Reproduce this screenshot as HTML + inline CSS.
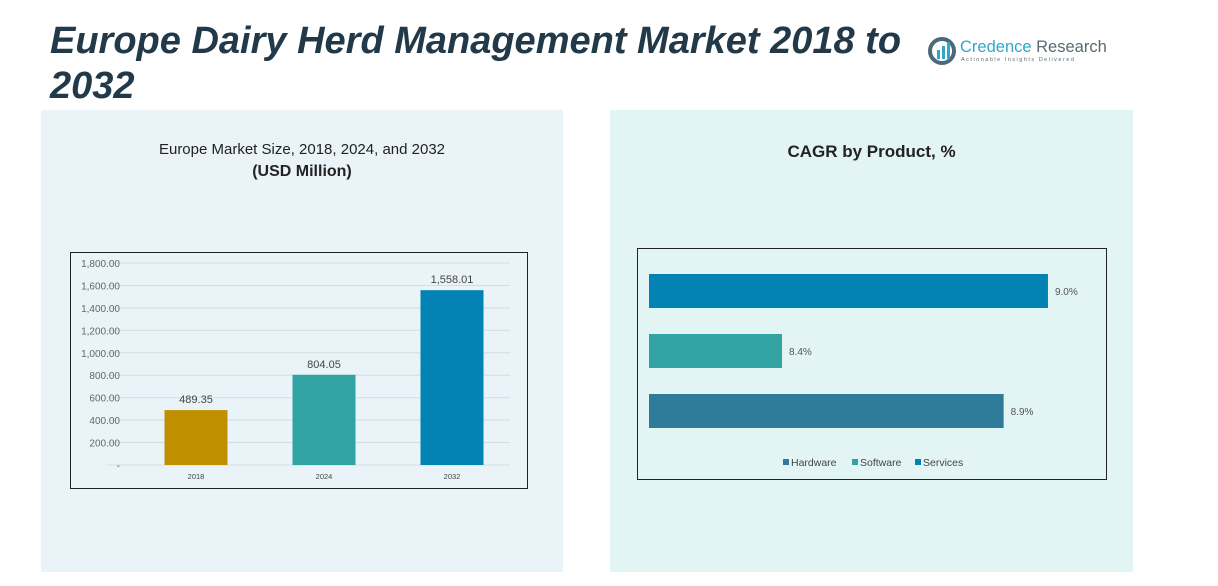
<!DOCTYPE html>
<html><head><meta charset="utf-8"><style>
body{margin:0;width:1218px;height:586px;background:#fff;font-family:"Liberation Sans",sans-serif;position:relative;overflow:hidden}
.t{position:absolute;left:50px;top:19px;font-size:38px;font-weight:bold;font-style:italic;color:#22394a;line-height:45px;width:870px}
.panel{position:absolute;top:110px;height:462px}
</style></head><body>
<div class="t">Europe Dairy Herd Management Market 2018 to 2032</div>
<div style="position:absolute;left:928px;top:36px">
<svg width="30" height="30"><circle cx="14" cy="15" r="12" fill="none" stroke="#4a6a7a" stroke-width="4"/><rect x="9" y="14" width="3" height="9" fill="#2fa8c8"/><rect x="14" y="10" width="3" height="13" fill="#2fa8c8"/><rect x="19" y="6" width="3" height="17" fill="#2fa8c8"/></svg>
<div style="position:absolute;left:32px;top:2px;font-size:16.5px;color:#2fa8c8;white-space:nowrap">Credence <span style="color:#5a6a72">Research</span></div>
<div style="position:absolute;left:33px;top:21px;font-size:5.5px;letter-spacing:1.5px;color:#5a6a72;white-space:nowrap">Actionable Insights Delivered</div>
</div>
<div class="panel" style="left:41px;width:522px;background:#eaf3f8"></div>
<div class="panel" style="left:610px;width:523px;background:#e3f4f4"></div>
<div style="position:absolute;left:41px;width:522px;top:139px;text-align:center;font-size:15px;color:#222;line-height:22px">Europe Market Size, 2018, 2024, and 2032<br><b style="font-size:16px">(USD Million)</b></div>
<div style="position:absolute;left:610px;width:523px;top:142px;text-align:center;font-size:17px;font-weight:bold;color:#222">CAGR by Product, %</div>
<svg id="s" width="1218" height="586" style="position:absolute;left:0;top:0">
<rect x="70.5" y="252.5" width="457" height="236" fill="none" stroke="#222"/>
<rect x="637.5" y="248.5" width="469" height="231" fill="none" stroke="#222"/>
</svg>
<script>
const years=["2018","2024","2032"];
const sizes=[489.35,804.05,1558.01];
const sizeLabels=["489.35","804.05","1,558.01"];
const yTicks=[0,200,400,600,800,1000,1200,1400,1600,1800];
const yTickLabels=["-","200.00","400.00","600.00","800.00","1,000.00","1,200.00","1,400.00","1,600.00","1,800.00"];
const products=["Services","Software","Hardware"];
const cagr=[9.0,8.4,8.9];
const cagrLabels=["9.0%","8.4%","8.9%"];
const legendNames=["Hardware","Software","Services"];
const NS="http://www.w3.org/2000/svg",s=document.getElementById('s');
function mk(t,a,txt){const e=document.createElementNS(NS,t);for(const k in a)e.setAttribute(k,a[k]);if(txt!=null)e.textContent=txt;s.appendChild(e);return e;}
const y=v=>465-v*(202/1800), x=i=>196+i*128;
const barCol=["#bf8f00","#31a3a3","#0382b4"];
yTicks.forEach((t,i)=>{
const g=mk('line',{x1:107,x2:510,y1:y(t),y2:y(t),stroke:'#d4dde2','stroke-width':1});


const l=mk('text',{x:120,y:y(t)+4,'text-anchor':'end','font-size':10,fill:'#666'},yTickLabels[i]);


});
years.forEach((yr,i)=>{
const b=mk('rect',{x:x(i)-31.5,y:y(sizes[i]),width:63,height:465-y(sizes[i]),fill:barCol[i]});


const v=mk('text',{x:x(i),y:y(sizes[i])-7,'text-anchor':'middle','font-size':11,fill:'#444'},sizeLabels[i]);


const c=mk('text',{x:x(i),y:479,'text-anchor':'middle','font-size':7.5,fill:'#444'},yr);


});
const hx=v=>649+(v-8.1)*443.3, hy=i=>274+i*60;
const hCol=["#0382b4","#31a3a3","#2e7b9a"];
products.forEach((p,i)=>{
const b=mk('rect',{x:649,y:hy(i),width:hx(cagr[i])-649,height:34,fill:hCol[i]});


const l=mk('text',{x:hx(cagr[i])+7,y:hy(i)+21,'font-size':10,fill:'#555'},cagrLabels[i]);


});
const lx=[783,852,915],lc=["#2e7b9a","#31a3a3","#0382b4"];
legendNames.forEach((n,i)=>{
const r=mk('rect',{x:lx[i],y:459,width:6,height:6,fill:lc[i]});


const t=mk('text',{x:lx[i]+8,y:466,'font-size':10.5,fill:'#444'},n);


});
</script>
</body></html>
